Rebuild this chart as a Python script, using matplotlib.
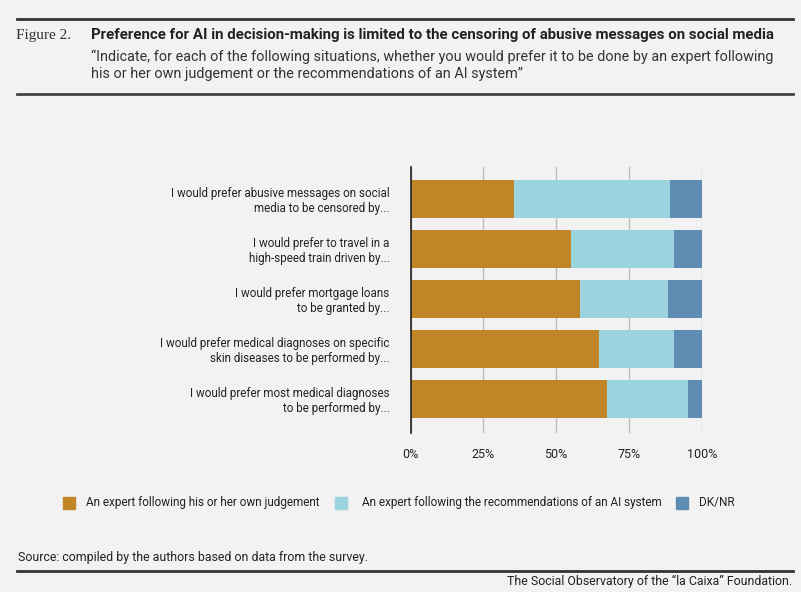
import numpy as np
import matplotlib.pyplot as plt
from matplotlib.patches import Rectangle

plt.rcParams['font.family'] = ['Roboto', 'DejaVu Sans']

categorias = [
    'I would prefer abusive messages on social\nmedia to be censored by...',
    'I would prefer to travel in a\nhigh-speed train driven by...',
    'I would prefer mortgage loans\nto be granted by...',
    'I would prefer medical diagnoses on specific\nskin diseases to be performed by...',
    'I would prefer most medical diagnoses\nto be performed by...',
]
experto = [35.5, 55.1, 58.2, 64.8, 67.5]
experto_ia = [53.6, 35.3, 30.2, 25.6, 27.7]
nsnc = [10.9, 9.6, 11.6, 9.6, 4.8]
series_nomes = ['An expert following his or her own judgement',
                'An expert following the recommendations of an AI system',
                'DK/NR']
cores = ['#c08526', '#9bd3de', '#5f8cb3']
ticks_x = [0, 25, 50, 75, 100]

fundo = '#f2f2f2'
fig = plt.figure(figsize=(8.01, 5.92), dpi=100, facecolor=fundo)
W, H = 801, 592

def fx(px):
    return px / W

def fy(py):
    return 1 - py / H

# cabecalho
fig.add_artist(plt.Line2D([fx(17), fx(793)], [fy(18.5), fy(18.5)], color='#333333', lw=2))
fig.text(fx(16), fy(35), 'Figure 2.', family='Liberation Serif', fontsize=11,
         color='#333333', va='center')
fig.text(fx(91), fy(35), 'Preference for AI in decision-making is limited to the censoring of abusive messages on social media',
         fontsize=10.85, fontweight='bold', color='#222222', va='center')
fig.text(fx(91), fy(57), '\u201cIndicate, for each of the following situations, whether you would prefer it to be done by an expert following',
         fontsize=10.35, color='#333333', va='center')
fig.text(fx(91), fy(74), 'his or her own judgement or the recommendations of an AI system\u201d',
         fontsize=10.35, color='#333333', va='center')
fig.add_artist(plt.Line2D([fx(17), fx(793)], [fy(94), fy(94)], color='#444444', lw=2))

# grafico
ax = fig.add_axes([fx(410.5), fy(433), fx(701.7) - fx(410.5), fy(167) - fy(433)])
ax.set_facecolor(fundo)
y = np.arange(len(categorias))
esquerda = np.zeros(len(categorias))
for valores, cor, nome in zip([experto, experto_ia, nsnc], cores, series_nomes):
    ax.barh(y, valores, left=esquerda, height=0.75, color=cor, label=nome, zorder=2)
    esquerda += np.array(valores)

ax.set_ylim(4.68, -0.64)
ax.set_xlim(0, 100)
ax.set_yticks(y)
ax.set_yticklabels(categorias, fontsize=8.4, color='#222222', linespacing=1.15)
ax.set_xticks(ticks_x)
ax.set_xticklabels([f'{t}%' for t in ticks_x], fontsize=9, color='#222222')
ax.tick_params(axis='both', length=0)
ax.tick_params(axis='y', pad=15)
ax.tick_params(axis='x', pad=11)
ax.grid(axis='x', color='#bbbbbb', lw=1, zorder=0)
for lado in ['top', 'right', 'bottom']:
    ax.spines[lado].set_visible(False)
ax.spines['left'].set_color('#222222')
ax.spines['left'].set_linewidth(1.2)
ax.spines['left'].set_zorder(3)

# legenda
leg_x = [63, 335, 676]
leg_txt_x = [86, 362, 699]
for cor, nome, sx, tx in zip(cores, series_nomes, leg_x, leg_txt_x):
    fig.add_artist(Rectangle((fx(sx), fy(509)), fx(12), 12 / H, color=cor,
                             transform=fig.transFigure))
    fig.text(fx(tx), fy(502.5), nome, fontsize=8.5, color='#222222', va='center')

# rodape
fig.text(fx(18), fy(558), 'Source: compiled by the authors based on data from the survey.',
         fontsize=8.9, color='#222222', va='center')
fig.add_artist(plt.Line2D([fx(17), fx(793)], [fy(570.5), fy(570.5)], color='#333333', lw=2))
fig.text(fx(792), fy(581), 'The Social Observatory of the \u201cla Caixa\u201d Foundation.',
         fontsize=8.9, color='#222222', va='center', ha='right')

fig.savefig('out.png', dpi=100, facecolor=fundo)
